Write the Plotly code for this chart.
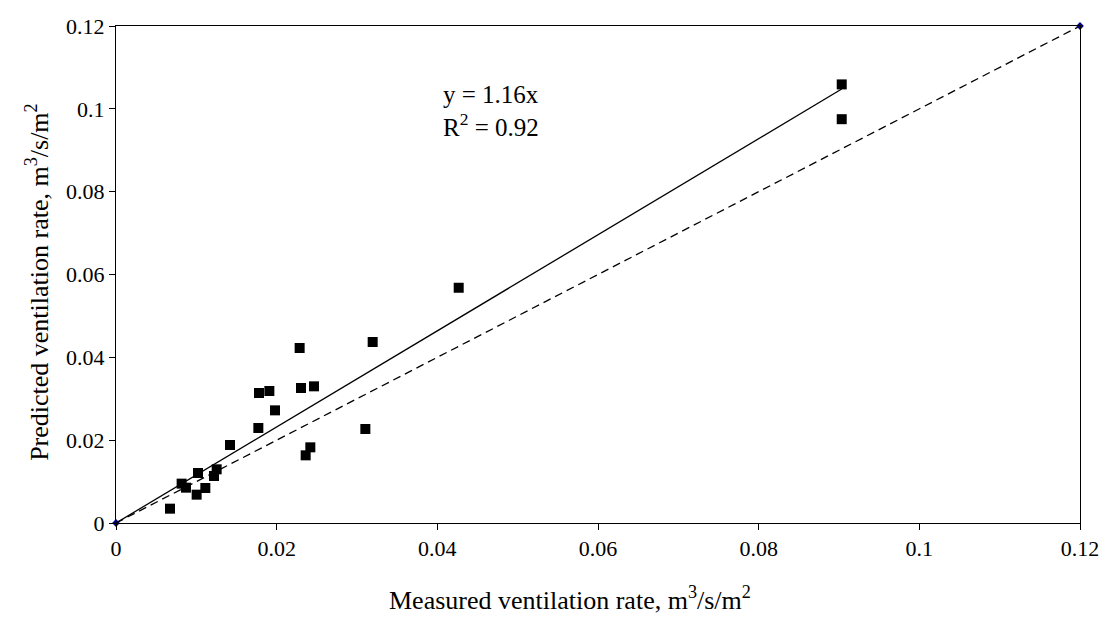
import plotly.graph_objects as go

measured = [0.00672, 0.00817, 0.00871, 0.01004, 0.01021, 0.01112, 0.0122, 0.01253,
            0.01419, 0.01772, 0.0178, 0.01909, 0.01979, 0.02286, 0.02303, 0.02465,
            0.02361, 0.02419, 0.03104, 0.03195, 0.04266, 0.09034, 0.09034]
predicted = [0.00346, 0.0095, 0.00853, 0.00684, 0.01207, 0.00845, 0.01135, 0.01296,
             0.01883, 0.02294, 0.03139, 0.03187, 0.0272, 0.04225, 0.0326, 0.033,
             0.01634, 0.01827, 0.0227, 0.0437, 0.0568, 0.1059, 0.0975]
slope = 1.16
r2 = 0.92
ref_x = [0, 0.12]
ref_y = [0, 0.12]
tick_vals = [0, 0.02, 0.04, 0.06, 0.08, 0.1, 0.12]
x_title = "Measured ventilation rate, m<sup>3</sup>/s/m<sup>2</sup>"
y_title = "Predicted ventilation rate, m<sup>3</sup>/s/m<sup>2</sup>"

font_family = "Liberation Serif"
fig = go.Figure()

# 1:1 reference line (dashed)
fig.add_trace(go.Scatter(x=ref_x, y=ref_y, mode="lines+markers", cliponaxis=False,
                         line=dict(color="black", width=1.3, dash="8px,5px"),
                         marker=dict(symbol="diamond", size=6, color="#000080"),
                         showlegend=False))

# Trend line through origin
fit_x = [0, max(measured)]
fit_y = [slope * v for v in fit_x]
fig.add_trace(go.Scatter(x=fit_x, y=fit_y, mode="lines",
                         line=dict(color="black", width=1.3),
                         showlegend=False))

# Data points
fig.add_trace(go.Scatter(x=measured, y=predicted, mode="markers",
                         marker=dict(symbol="square", size=10, color="black"),
                         showlegend=False))

fig.add_annotation(x=0.04046, y=0.0995, xref="x", yref="y",
                   text=f"y = {slope}x<br>R<sup>2</sup> = {r2}",
                   showarrow=False, xanchor="left", yanchor="middle", align="left",
                   font=dict(family=font_family, size=25, color="black"))

# Axis titles
fig.add_annotation(x=0.471, y=-0.152, xref="paper", yref="paper", text=x_title,
                   showarrow=False, xanchor="center", yanchor="middle",
                   font=dict(family=font_family, size=26, color="black"))
fig.add_annotation(x=-0.081, y=0.485, xref="paper", yref="paper", text=y_title,
                   showarrow=False, xanchor="center", yanchor="middle", textangle=-90,
                   font=dict(family=font_family, size=26, color="black"))

axis_common = dict(range=[0, 0.12], tickvals=tick_vals, ticks="outside", ticklen=6,
                   tickcolor="black", showline=True, linecolor="black", linewidth=1,
                   mirror=True, showgrid=False, zeroline=False, automargin=False,
                   tickfont=dict(family=font_family, size=22, color="black"))

fig.update_xaxes(**axis_common)
fig.update_yaxes(**axis_common)

fig.update_layout(width=1102, height=617,
                  margin=dict(l=116, r=22, t=26, b=94),
                  paper_bgcolor="white", plot_bgcolor="white",
                  font=dict(family=font_family, color="black"))

fig.write_html("out.html")
